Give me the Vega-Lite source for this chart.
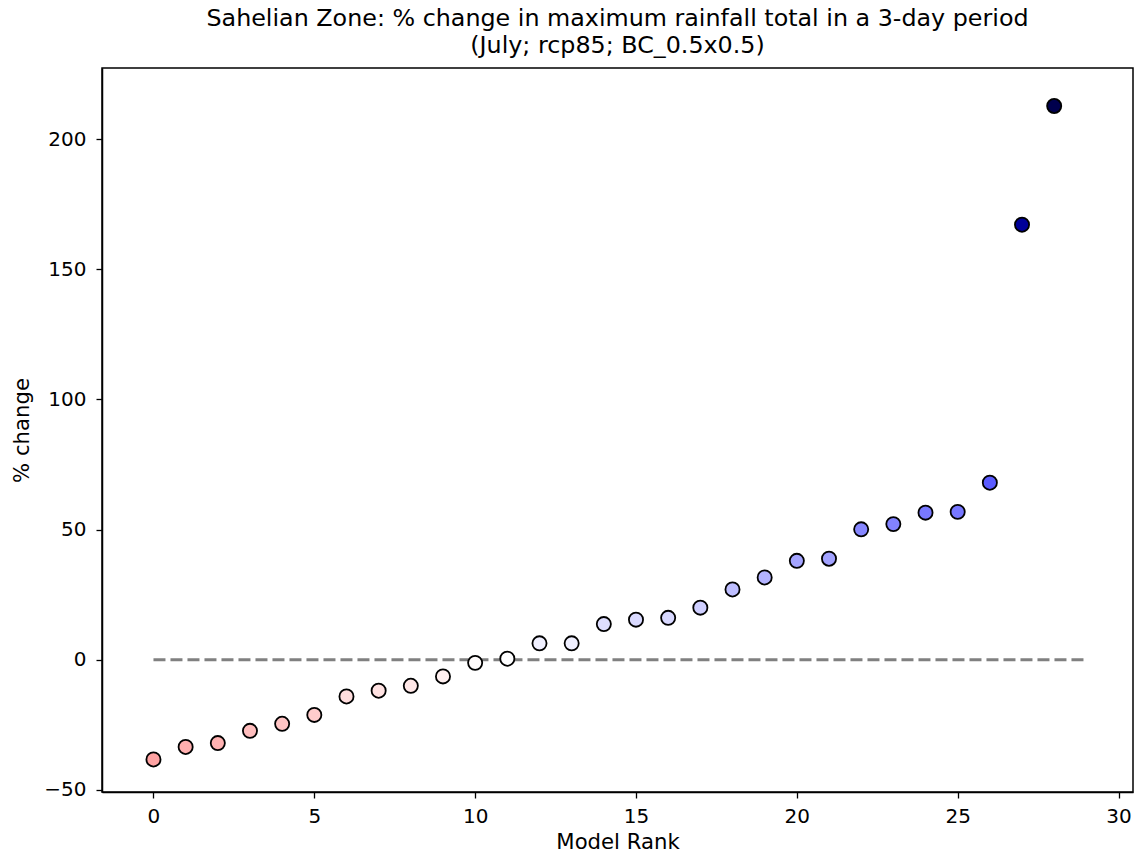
{
  "$schema": "https://vega.github.io/schema/vega-lite/v6.json",
  "autosize": "none",
  "width": 1031,
  "height": 724,
  "padding": {"left": 102, "top": 68, "right": 3, "bottom": 69},
  "background": "white",
  "title": {
    "text": ["Sahelian Zone: % change in maximum rainfall total in a 3-day period", "(July; rcp85; BC_0.5x0.5)"],
    "font": "DejaVu Sans",
    "fontSize": 23.8,
    "fontWeight": "normal",
    "color": "black",
    "anchor": "middle",
    "lineHeight": 27,
    "offset": 10
  },
  "config": {
    "view": {"stroke": "black", "strokeWidth": 1.5},
    "axis": {
      "domainColor": "black",
      "domainWidth": 1.5,
      "tickColor": "black",
      "tickWidth": 1.3,
      "tickSize": 6,
      "grid": false,
      "labelFont": "DejaVu Sans",
      "labelFontSize": 20,
      "labelColor": "black",
      "titleFont": "DejaVu Sans",
      "titleFontSize": 21.2,
      "titleFontWeight": "normal",
      "titleColor": "black"
    }
  },
  "layer": [
    {
      "data": {"values": [{"rank": 0, "y": 0}, {"rank": 29, "y": 0}]},
      "mark": {"type": "line", "color": "#808080", "strokeWidth": 3, "strokeDash": [12, 5]},
      "encoding": {
        "x": {"field": "rank", "type": "quantitative"},
        "y": {"field": "y", "type": "quantitative"}
      }
    },
    {
      "data": {
        "values": [
          {"rank": 0, "change": -38.3},
          {"rank": 1, "change": -33.5},
          {"rank": 2, "change": -32.0},
          {"rank": 3, "change": -27.3},
          {"rank": 4, "change": -24.6},
          {"rank": 5, "change": -21.2},
          {"rank": 6, "change": -14.1},
          {"rank": 7, "change": -11.9},
          {"rank": 8, "change": -10.0},
          {"rank": 9, "change": -6.4},
          {"rank": 10, "change": -1.2},
          {"rank": 11, "change": 0.4},
          {"rank": 12, "change": 6.3},
          {"rank": 13, "change": 6.3},
          {"rank": 14, "change": 13.7},
          {"rank": 15, "change": 15.4},
          {"rank": 16, "change": 16.1},
          {"rank": 17, "change": 20.0},
          {"rank": 18, "change": 27.0},
          {"rank": 19, "change": 31.6},
          {"rank": 20, "change": 38.0},
          {"rank": 21, "change": 38.8},
          {"rank": 22, "change": 50.1},
          {"rank": 23, "change": 52.1},
          {"rank": 24, "change": 56.5},
          {"rank": 25, "change": 56.8},
          {"rank": 26, "change": 68.0},
          {"rank": 27, "change": 167.1},
          {"rank": 28, "change": 212.7}
        ]
      },
      "mark": {"type": "circle", "size": 200, "opacity": 1, "stroke": "black", "strokeWidth": 1.8},
      "encoding": {
        "x": {
          "field": "rank", "type": "quantitative",
          "scale": {"domain": [-1.6, 30.45], "nice": false, "zero": false},
          "axis": {"title": "Model Rank", "values": [0, 5, 10, 15, 20, 25, 30], "format": "d", "labelPadding": 8, "titlePadding": 5}
        },
        "y": {
          "field": "change", "type": "quantitative",
          "scale": {"domain": [-50.8, 227.3], "nice": false, "zero": false},
          "axis": {"title": "% change", "values": [-50, 0, 50, 100, 150, 200], "format": "d", "labelPadding": 10, "titlePadding": 11}
        },
        "color": {
          "field": "change", "type": "quantitative",
          "scale": {
            "domain": [-212.7, -106.35, 0, 106.35, 212.7],
            "range": ["#800000", "#ff0000", "#ffffff", "#0000ff", "#00004d"],
            "interpolate": "rgb"
          },
          "legend": null
        }
      }
    }
  ]
}
